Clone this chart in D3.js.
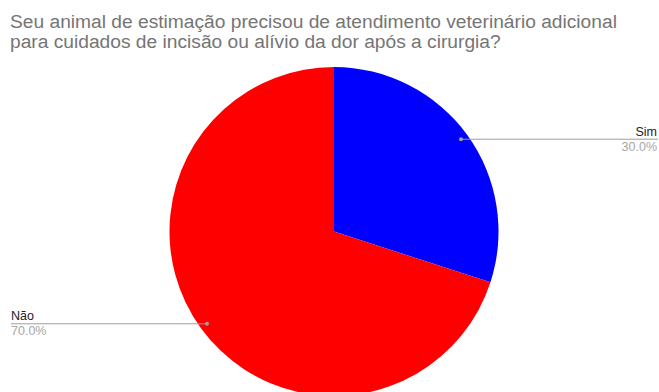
<!DOCTYPE html>
<html>
<head>
<meta charset="utf-8">
<script src="https://cdn.jsdelivr.net/npm/d3@7"></script>
<style>
  html, body { margin: 0; padding: 0; background: #fff; }
  svg { display: block; font-family: "Liberation Sans", Arial, sans-serif; }
</style>
</head>
<body>
<svg id="chart" width="659" height="392"></svg>
<script>
// Survey answers and their share of responses (%)
const categories = ["Sim", "Não"];
const values = [30.0, 70.0];
const colors = ["#0000ff", "#ff0000"];
const titleLines = [
  "Seu animal de estimação precisou de atendimento veterinário adicional",
  "para cuidados de incisão ou alívio da dor após a cirurgia?"
];

const width = 659, height = 392;
const cx = 334, cy = 231.5, radius = 164.5, dotRadius = 157;

const svg = d3.select("#chart");

// Title
svg.append("text")
  .attr("x", 10)
  .attr("y", 28)
  .attr("fill", "#757575")
  .attr("font-size", 19.2)
  .selectAll("tspan")
  .data(titleLines)
  .join("tspan")
  .attr("x", 10)
  .attr("dy", (d, i) => i === 0 ? 0 : 19.5)
  .text(d => d);

const data = categories.map((c, i) => ({ label: c, value: values[i], color: colors[i] }));

const pie = d3.pie().value(d => d.value).sort(null);
const arcs = pie(data);
const arc = d3.arc().innerRadius(0).outerRadius(radius);
const dotArc = d3.arc().innerRadius(dotRadius).outerRadius(dotRadius);

const g = svg.append("g").attr("transform", `translate(${cx},${cy})`);

g.selectAll("path.slice")
  .data(arcs)
  .join("path")
  .attr("class", "slice")
  .attr("d", arc)
  .attr("fill", d => d.data.color);

// Leader lines with labels
const fmt = d3.format(".1f");
arcs.forEach(a => {
  const [dx, dy] = dotArc.centroid(a);
  const px = cx + dx, py = cy + dy;
  const right = px > cx;
  const endX = right ? 658 : 11;
  svg.append("line")
    .attr("x1", px).attr("y1", py)
    .attr("x2", endX).attr("y2", py)
    .attr("stroke", "#9e9e9e")
    .attr("stroke-width", 1);
  svg.append("circle")
    .attr("cx", px).attr("cy", py).attr("r", 2)
    .attr("fill", "#9e9e9e");
  const anchor = right ? "end" : "start";
  const tx = right ? 657 : 11;
  svg.append("text")
    .attr("x", tx).attr("y", py - 3.5)
    .attr("text-anchor", anchor)
    .attr("font-size", 12.5)
    .attr("fill", "#222")
    .text(a.data.label);
  svg.append("text")
    .attr("x", tx).attr("y", py + 11.5)
    .attr("text-anchor", anchor)
    .attr("font-size", 12.5)
    .attr("fill", "#a6a6a6")
    .text(fmt(a.data.value) + "%");
});
</script>
</body>
</html>
